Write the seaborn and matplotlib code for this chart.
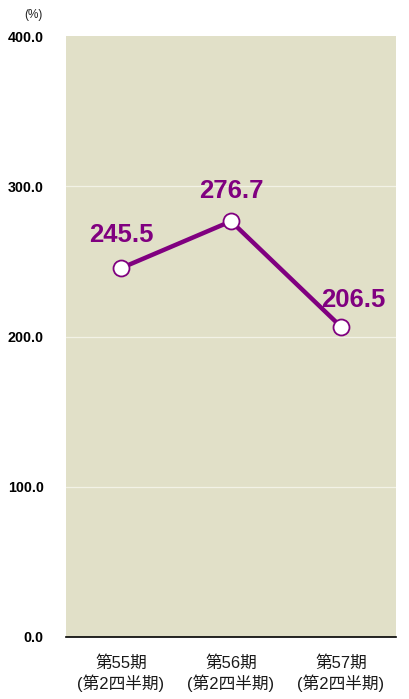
import matplotlib
matplotlib.use("Agg")
import matplotlib.pyplot as plt
import seaborn as sns
import pandas as pd

# Data
periods = ["第55期\n(第2四半期)", "第56期\n(第2四半期)", "第57期\n(第2四半期)"]
values = [245.5, 276.7, 206.5]
yticks = [0, 100, 200, 300, 400]
ytick_labels = ["0.0", "100.0", "200.0", "300.0", "400.0"]

sns.set_theme(style="white")
plt.rcParams["font.family"] = ["Liberation Sans", "Noto Sans CJK JP", "DejaVu Sans"]

purple = "#800080"
df = pd.DataFrame({"period": periods, "value": values})

fig = plt.figure(figsize=(4.09, 6.99), dpi=100)
ax = fig.add_axes([66 / 409, 62 / 699, 330 / 409, 601 / 699])
ax.set_facecolor("#e1e0c8")

sns.lineplot(data=df, x="period", y="value", ax=ax, color=purple, linewidth=3.2,
             marker="o", markersize=11.5, markerfacecolor="white",
             markeredgecolor=purple, markeredgewidth=1.3, sort=False, zorder=3)

ax.set_xlim(-0.5, 2.5)
ax.set_ylim(0, 400)
ax.set_yticks(yticks)
ax.set_yticklabels(ytick_labels, fontsize=10.3, fontweight="bold", color="black")
ax.set_xticks(range(len(periods)))
ax.set_xticklabels(periods, fontsize=12, color="#1a1a1a",
                   family=["Liberation Sans", "Noto Sans CJK JP", "DejaVu Sans"],
                   linespacing=1.25)
ax.tick_params(axis="y", length=0, pad=16)
ax.tick_params(axis="x", length=0, pad=13)
ax.set_xlabel("")
ax.set_ylabel("")

for y in [100, 200, 300]:
    ax.axhline(y, color="#f2f2e6", linewidth=0.9, zorder=1)

for s in ["top", "right", "left"]:
    ax.spines[s].set_visible(False)
ax.spines["bottom"].set_color("black")
ax.spines["bottom"].set_linewidth(1.2)

# Value labels
offsets = [(0, 24), (0, 21.5), (9, 19.5)]
for i, (v, off) in enumerate(zip(values, offsets)):
    ax.annotate(f"{v:.1f}", (i, v), xytext=off, textcoords="offset points",
                ha="center", va="center", fontsize=18.5, fontweight="bold",
                color=purple, zorder=4)

fig.text(33 / 409, 1 - 15 / 699, "(%)", ha="center", va="center",
         fontsize=8.5, color="#222222")

fig.savefig("out.png", dpi=100)
